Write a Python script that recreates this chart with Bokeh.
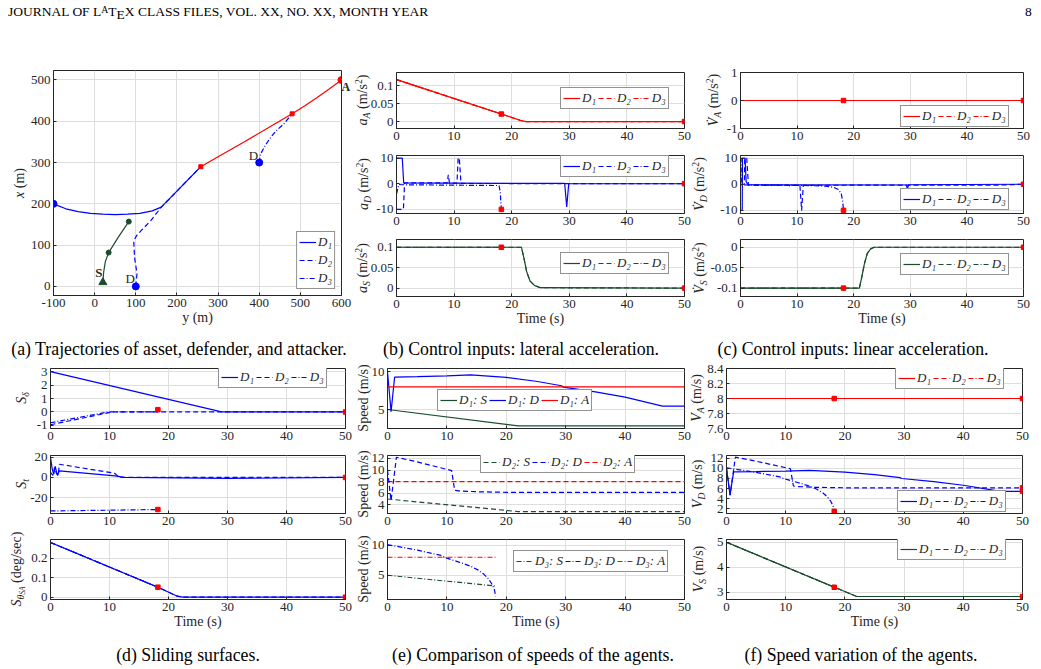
import math
from bokeh.plotting import figure
from bokeh.models import Range1d, FixedTicker, PrintfTickFormatter, Label, Legend, LegendItem, Div, LinearAxis
from bokeh.layouts import column, row
from bokeh.core.properties import value
from bokeh.embed import file_html
from bokeh.resources import INLINE

# ======================= DATA =======================
# (a) trajectories: horizontal axis is y (m), vertical axis is x (m)
atk_y = [600, 570, 540, 510, 480, 420, 360, 300, 258]
atk_x = [500, 478, 457, 437, 418, 383, 348, 314, 290]
d1_y = [-100, -70, -40, -10, 20, 50, 80, 110, 140, 162, 210, 258]
d1_x = [200, 188, 181, 177, 175, 174, 175, 177, 183, 192, 241, 290]
d2_y = [100, 103, 100, 97, 95, 102, 113, 137, 162, 210, 258]
d2_x = [0, 31, 50, 70, 111, 123, 135, 160, 192, 241, 290]
d3_y = [400, 403, 412, 425, 440, 460, 480]
d3_x = [300, 320, 337, 357, 376, 394, 418]
asset_y = [20, 22, 26, 34, 58, 83]
asset_x = [10, 35, 60, 82, 120, 157]
dstart_y = [-100, 100, 400]
dstart_x = [200, 0, 300]
astop_y = [34, 83]
astop_x = [82, 157]
capture_y = [480, 258]
capture_x = [418, 290]
a_tag_x = 483          # height of the attacker tag "A" on the right edge

# time axis
t_ticks = [0, 10, 20, 30, 40, 50]

# (b) lateral acceleration
aA_t = [0, 18.2, 21.5, 22.5, 50]
aA_v = [0.117, 0.021, 0.0035, 0, 0]
aA3_t = [0, 18.2]
aA3_v = [0.117, 0.021]
aD1_t = [0, 1.0, 1.25, 29.2, 29.55, 29.9, 50]
aD1_v = [10, 10, 0.3, 0.1, -9, 0, 0]
aD2_t = [0, 1.2, 1.4, 8.8, 9.0, 9.2, 10.5, 10.7, 10.9, 11.2, 50]
aD2_v = [-10, -10, 0.3, 0.3, 3.5, 0.2, 0.2, 10, 10, 0.1, 0]
aD3_t = [0, 0.4, 1.0, 17.8, 18.0, 18.2]
aD3_v = [-4, -0.3, -0.4, -0.7, -3.0, -10]
aS_t = [0, 21.7, 22.1, 22.6, 23.2, 24.0, 25.0, 50]
aS_v = [0.1, 0.1, 0.075, 0.04, 0.017, 0.006, 0.001, 0]
aS3_t = [0, 18.2]
aS3_v = [0.1, 0.1]

# (c) linear acceleration
vdA_t = [0, 50]
vdA_v = [0, 0]
vdA3_t = [0, 18.2]
vdA3_v = [0, 0]
vdD1_t = [0, 0.3, 0.35, 0.8, 1.0, 1.3, 29.3, 29.5, 29.7, 50]
vdD1_v = [-10, -10, 10, 10, 1, -0.2, -0.3, -1.8, -0.2, 0]
vdD2_t = [0, 0.7, 0.75, 1.1, 1.4, 8.6, 8.8, 9.0, 10.5, 10.8, 11.1, 46, 50]
vdD2_v = [0, 0, 10, 10, -0.3, -0.4, -0.9, -0.4, -0.5, -10, -0.4, -0.3, 0]
vdD3_t = [0, 0.1, 0.15, 1, 10, 15, 16.5, 17.3, 17.8, 18.05, 18.2]
vdD3_v = [10, 10, -0.2, -0.3, -0.4, -0.7, -1.2, -2.0, -3.6, -6.5, -10]
vdS_t = [0, 21.0, 21.4, 21.9, 22.4, 23.0, 23.6, 50]
vdS_v = [-0.1, -0.1, -0.075, -0.04, -0.015, -0.004, 0, 0]
vdS3_t = [0, 18.2]
vdS3_v = [-0.1, -0.1]

# (d) sliding surfaces
sd1_t = [0, 29.0, 50]
sd1_v = [3.0, 0, 0]
sd2_t = [0, 10.5, 50]
sd2_v = [-0.95, 0, 0]
sd3_t = [0, 9.8, 18.2]
sd3_v = [-0.8, 0, 0]
st1_t = [0, 0.3, 0.55, 0.8, 1.0, 1.2, 1.5, 11.0, 12.5, 30, 50]
st1_v = [20, 8, 3, 11, 6, 2, 6.5, 1.5, 0, -1, 0]
st2_t = [0, 0.4, 0.7, 1.0, 1.3, 1.5, 10.8, 11.0, 11.6, 50]
st2_v = [5, 2, 10, 4, 2, 13, 4.2, 3.5, 0, 0]
st3_t = [0, 18.2]
st3_v = [-33, -31.6]
sth_t = [0, 18.2, 21.5, 22.4, 50]
sth_v = [0.28, 0.051, 0.005, 0, 0]
sth3_t = [0, 18.2]
sth3_v = [0.28, 0.051]

# (e)/(f) speeds
vS_t = [0, 22.0, 50]
vS_v = [5.0, 2.83, 2.83]
vS3_t = [0, 18.2]
vS3_v = [5.0, 3.2]
vA_t = [0, 50]
vA_v = [8, 8]
vA3_t = [0, 18.2]
vA3_v = [8, 8]
vD1_t = [0, 0.6, 1.2, 5, 10, 14, 20, 25, 29.3, 29.6, 35, 40, 46.3, 50]
vD1_v = [10, 4.7, 9.3, 9.35, 9.45, 9.6, 9.25, 8.75, 8.15, 7.98, 7.35, 6.65, 5.45, 5.45]
vD2_t = [0, 0.6, 1.5, 5, 10.8, 11.3, 12, 15, 20, 30, 50]
vD2_v = [10, 4.7, 12.2, 11.4, 9.9, 6.5, 6.4, 6.25, 6.15, 6.15, 6.15]
vD3_t = [0, 5, 9, 9.3, 10, 12, 14, 15.2, 16.2, 17.0, 17.6, 18.0, 18.2]
vD3_v = [10.1, 9.2, 8.3, 8.1, 7.85, 7.2, 6.5, 5.9, 5.2, 4.4, 3.5, 2.6, 1.5]

# end-of-episode markers (t, value)
mk_b1 = ([18.2, 50], [0.021, 0])
mk_b2 = ([18.2, 50], [-10, 0])
mk_b3 = ([18.2, 50], [0.1, 0])
mk_c1 = ([18.2, 50], [0, 0])
mk_c2 = ([18.2, 50], [-10, 0])
mk_c3 = ([18.2, 50], [-0.1, 0])
mk_d1 = ([18.2, 50], [0.17, 0])
mk_d2 = ([18.2, 50], [-31.6, 0])
mk_d3 = ([18.2, 50], [0.051, 0])
mk_f1 = ([18.2, 50], [8, 8])
mk_f2 = ([18.2, 50, 50], [1.5, 6.15, 5.45])
mk_f3 = ([18.2, 50], [3.2, 2.83])

leg_D = ["D\u2081", "D\u2082", "D\u2083"]
leg_e1 = ["D\u2081: S", "D\u2081: D", "D\u2081: A"]
leg_e2 = ["D\u2082: S", "D\u2082: D", "D\u2082: A"]
leg_e3 = ["D\u2083: S", "D\u2083: D", "D\u2083: A"]

header_left = ('JOURNAL OF L<span style="font-size:0.72em;position:relative;top:-0.3em;">A</span>'
               'T<span style="position:relative;top:0.22em;">E</span>X CLASS FILES, VOL. XX, NO. XX, MONTH YEAR')
header_right = "8"
captions_top = ["(a) Trajectories of asset, defender, and attacker.",
                "(b) Control inputs: lateral acceleration.",
                "(c) Control inputs: linear acceleration."]
captions_bottom = ["(d) Sliding surfaces.",
                   "(e) Comparison of speeds of the agents.",
                   "(f) Speed variation of the agents."]

SUB = '<span style="font-size:70%;vertical-align:-0.28em;">{}</span>'
SUP = '<span style="font-size:70%;vertical-align:0.5em;">{}</span>'
ylab_a = "<i>x</i> (m)"
ylab_b = ["<i>a</i>" + SUB.format("<i>%s</i>" % k) + " (m/s" + SUP.format("2") + ")" for k in "ADS"]
ylab_c = ["<i>V\u0307</i>" + SUB.format("<i>%s</i>" % k) + " (m/s" + SUP.format("2") + ")" for k in "ADS"]
ylab_d = ["<i>S</i>" + SUB.format("<i>\u03b4</i>"),
          "<i>S</i>" + SUB.format("<i>t</i>"),
          "<i>S</i>" + SUB.format('<i>\u03b8</i><span style="font-size:75%;vertical-align:-0.25em;"><i>SA</i></span>')
          + " (deg/sec)"]
ylab_e = ["Speed (m/s)"] * 3
ylab_f = ["<i>V</i>" + SUB.format("<i>%s</i>" % k) + " (m/s)" for k in "ADS"]

# ======================= STYLE =======================
FONT = "Liberation Serif"
AX = "#262626"
GRID = "#dedede"
BLUE = "#0000ff"
RED = "#ff0000"
GREEN = "#1a4d2e"
LW = 1.2
DASH = ["solid", "5 3", "5 2 1 2"]


def make_fig(w, h, l, r, t, b, xr, yr, xt, yt):
    p = figure(width=w, height=h, x_range=Range1d(xr[0], xr[1]), y_range=Range1d(yr[0], yr[1]),
               output_backend="svg", toolbar_location=None, tools="", title=None,
               min_border_left=l, min_border_right=r, min_border_top=t, min_border_bottom=b)
    p.outline_line_color = AX
    p.outline_line_width = 1
    p.outline_line_alpha = 1
    p.background_fill_color = "white"
    p.border_fill_alpha = 0
    for ax, ticks in ((p.xaxis, xt), (p.yaxis, yt)):
        ax.ticker = FixedTicker(ticks=ticks)
        ax.formatter = PrintfTickFormatter(format="%g")
        ax.major_tick_in = 3
        ax.major_tick_out = 0
        ax.minor_tick_line_color = None
        ax.axis_line_color = AX
        ax.major_tick_line_color = AX
        ax.major_label_text_font = FONT
        ax.major_label_text_font_size = "13px"
        ax.major_label_text_color = AX
        ax.major_label_standoff = 3
        ax.axis_label_text_font = FONT
        ax.axis_label_text_font_size = "14px"
        ax.axis_label_text_font_style = "normal"
        ax.axis_label_text_color = AX
        ax.axis_label_standoff = 0
    p.grid.grid_line_color = GRID
    p.grid.grid_line_width = 1
    return p


def add_legend(p, pairs, loc, orientation="horizontal", margin=0):
    items = [LegendItem(label=value(lbl), renderers=[rd]) for lbl, rd in pairs]
    lg = Legend(items=items, location=loc, orientation=orientation, padding=2, spacing=2, margin=margin,
                glyph_width=17, glyph_height=12, label_height=12, label_width=8, label_standoff=2,
                label_text_font=FONT, label_text_font_size="13px", label_text_font_style="italic",
                label_text_color=AX, border_line_color=AX, border_line_width=1,
                background_fill_color="white", background_fill_alpha=1)
    p.add_layout(lg, "center")


def label_div(w, h, cx, cy, html):
    inner = ('<div style="position:relative;width:%dpx;height:%dpx;font-family:\'Liberation Serif\';'
             'font-size:14px;line-height:1;color:%s;overflow:visible;">'
             '<span style="position:absolute;left:%spx;top:%spx;transform:translate(-50%%,-50%%) rotate(-90deg);'
             'white-space:nowrap;">%s</span></div>' % (w, h, AX, cx, cy, html))
    return Div(text=inner, width=w, height=h, margin=0, styles={"overflow": "visible", "z-index": "5"})


DIVW = 8


def ts_panel(fig_left, frame_w, right, lab_cx, hrow, yr, yt, series, markers, labels, leg_loc,
             ylab, time_label=False):
    h, t, b = hrow
    w = fig_left + frame_w + right
    p = make_fig(w, h, fig_left, right, t, b, (0, 50), yr, t_ticks, yt)
    rends = [p.line(st, sv, line_color=c, line_width=LW, line_dash=d) for st, sv, d, c in series]
    if markers:
        p.scatter(markers[0], markers[1], marker="square", size=4.5, fill_color=RED, line_color=RED)
    if labels:
        add_legend(p, list(zip(labels, rends)), leg_loc)
    if time_label:
        p.xaxis.axis_label = "Time (s)"
    fh = h - t - b
    return row(label_div(DIVW, h, lab_cx, t + fh / 2.0, ylab), p, spacing=0)


R1 = [(88, 12, 20), (85, 7, 20), (97, 6, 34)]
R2 = [(86, 6, 20), (85, 7, 20), (102, 6, 36)]

# ======================= PANEL (a) =======================
pa = make_fig(337, 270, 33, 16, 10, 35, (-100, 600), (-22, 523),
              [-100, 0, 100, 200, 300, 400, 500, 600], [0, 100, 200, 300, 400, 500])
pa.xaxis.axis_label = "y (m)"
pa.line(atk_y, atk_x, line_color=RED, line_width=LW)
ra1 = pa.line(d1_y, d1_x, line_color=BLUE, line_width=LW, line_dash=DASH[0])
ra2 = pa.line(d2_y, d2_x, line_color=BLUE, line_width=LW, line_dash=DASH[1])
ra3 = pa.line(d3_y, d3_x, line_color=BLUE, line_width=LW, line_dash=DASH[2])
pa.line(asset_y, asset_x, line_color=GREEN, line_width=LW)
pa.scatter(astop_y, astop_x, marker="circle", size=5, fill_color=GREEN, line_color=GREEN)
pa.scatter(asset_y[:1], asset_x[:1], marker="triangle", size=8, fill_color=GREEN, line_color=GREEN)
pa.scatter(capture_y, capture_x, marker="square", size=4, fill_color=RED, line_color=RED)
pa.scatter(dstart_y, dstart_x, marker="circle", size=7, fill_color=BLUE, line_color=BLUE)
pa.scatter(atk_y[:1], atk_x[:1], marker="circle", size=7, fill_color=RED, line_color=RED)
for yy, xx in zip(dstart_y, dstart_x):
    pa.add_layout(Label(x=yy, y=xx, text="D", x_offset=-1, y_offset=0, text_align="right",
                        text_baseline="bottom", text_font=FONT, text_font_size="13px", text_color=AX))
pa.add_layout(Label(x=asset_y[0], y=asset_x[0], text="S", x_offset=-0.5, y_offset=2, text_align="right",
                    text_baseline="bottom", text_font=FONT, text_font_size="13px", text_font_style="bold",
                    text_color=AX))
tag_axis = LinearAxis(ticker=FixedTicker(ticks=[a_tag_x]), major_label_overrides={a_tag_x: "A"},
                      axis_line_color=None, major_tick_line_color=None, minor_tick_line_color=None,
                      major_tick_in=0, major_tick_out=0,
                      major_label_standoff=0, major_label_text_font=FONT, major_label_text_font_size="12px",
                      major_label_text_font_style="bold", major_label_text_color=AX)
pa.add_layout(tag_axis, "right")
add_legend(pa, list(zip(leg_D, [ra1, ra2, ra3])), "bottom_right", orientation="vertical", margin=6)
panel_a = row(label_div(20, 270, 19.5, 10 + 112.5, ylab_a), pa, spacing=0)

# ======================= PANEL (b) =======================
BL, BFW, BR = 31, 288, 8
b1 = ts_panel(BL, BFW, BR, 6, R1[0], (-0.0193, 0.1367), [0, 0.05, 0.1],
              [(aA_t, aA_v, DASH[0], RED), (aA_t, aA_v, DASH[1], RED), (aA3_t, aA3_v, DASH[2], RED)],
              mk_b1, leg_D, (164, 19), ylab_b[0])
b2 = ts_panel(BL, BFW, BR, 6.5, R1[1], (-11.6, 11.0), [-10, 0, 10],
              [(aD1_t, aD1_v, DASH[0], BLUE), (aD2_t, aD2_v, DASH[1], BLUE), (aD3_t, aD3_v, DASH[2], BLUE)],
              mk_b2, leg_D, (164, 36), ylab_b[1])
b3 = ts_panel(BL, BFW, BR, 6, R1[2], (-0.0205, 0.119), [0, 0.05, 0.1],
              [(aS_t, aS_v, DASH[0], GREEN), (aS_t, aS_v, DASH[1], GREEN), (aS3_t, aS3_v, DASH[2], GREEN)],
              mk_b3, leg_D, (164, 22), ylab_b[2], time_label=True)

# ======================= PANEL (c) =======================
CL, CFW, CR = 40, 283, 18
c1 = ts_panel(CL, CFW, CR, 22, R1[0], (-1, 1), [-1, 0, 1],
              [(vdA_t, vdA_v, DASH[0], RED), (vdA_t, vdA_v, DASH[1], RED), (vdA3_t, vdA3_v, DASH[2], RED)],
              mk_c1, leg_D, (160, 1), ylab_c[0])
c2 = ts_panel(CL, CFW, CR, 8, R1[1], (-11.2, 11.0), [-10, 0, 10],
              [(vdD1_t, vdD1_v, DASH[0], BLUE), (vdD2_t, vdD2_v, DASH[1], BLUE), (vdD3_t, vdD3_v, DASH[2], BLUE)],
              mk_c2, leg_D, (160, 3), ylab_c[1])
c3 = ts_panel(CL, CFW, CR, 8, R1[2], (-0.1205, 0.019), [-0.1, -0.05, 0],
              [(vdS_t, vdS_v, DASH[0], GREEN), (vdS_t, vdS_v, DASH[1], GREEN), (vdS3_t, vdS3_v, DASH[2], GREEN)],
              mk_c3, leg_D, (160, 21), ylab_c[2], time_label=True)

# ======================= PANEL (d) =======================
DL, DFW, DR = 42, 295, 7
d1 = ts_panel(DL, DFW, DR, 22.5, R2[0], (-1.23, 3.23), [-1, 0, 1, 2, 3],
              [(sd1_t, sd1_v, DASH[0], BLUE), (sd2_t, sd2_v, DASH[1], BLUE), (sd3_t, sd3_v, DASH[2], BLUE)],
              mk_d1, leg_D, (168, 40), ylab_d[0])
d2 = ts_panel(DL, DFW, DR, 22.5, R2[1], (-35.5, 21.6), [-20, 0, 20],
              [(st1_t, st1_v, DASH[0], BLUE), (st2_t, st2_v, DASH[1], BLUE), (st3_t, st3_v, DASH[2], BLUE)],
              mk_d2, None, None, ylab_d[1])
d3 = ts_panel(DL, DFW, DR, 18, R2[2], (-0.012, 0.295), [0, 0.1, 0.2],
              [(sth_t, sth_v, DASH[0], BLUE), (sth_t, sth_v, DASH[1], BLUE), (sth3_t, sth3_v, DASH[2], BLUE)],
              mk_d3, None, None, ylab_d[2], time_label=True)

# ======================= PANEL (e) =======================
EL, EFW, ER = 27, 297, 8
e1 = ts_panel(EL, EFW, ER, 11.5, R2[0], (2.48, 10.44), [5, 10],
              [(vS_t, vS_v, DASH[0], GREEN), (vD1_t, vD1_v, DASH[0], BLUE), (vA_t, vA_v, DASH[0], RED)],
              None, leg_e1, (50, 17), ylab_e[0])
e2 = ts_panel(EL, EFW, ER, 11.5, R2[1], (2.5, 12.5), [4, 6, 8, 10, 12],
              [(vS_t, vS_v, DASH[1], GREEN), (vD2_t, vD2_v, DASH[1], BLUE), (vA_t, vA_v, DASH[1], RED)],
              None, leg_e2, (93, 40), ylab_e[1])
e3 = ts_panel(EL, EFW, ER, 11.5, R2[2], (0.96, 10.96), [5, 10],
              [(vS3_t, vS3_v, DASH[2], GREEN), (vD3_t, vD3_v, DASH[2], BLUE), (vA3_t, vA3_v, DASH[2], RED)],
              None, leg_e3, (126, 27), ylab_e[2], time_label=True)

# ======================= PANEL (f) =======================
FL, FFW, FR = 26, 296, 19
f1 = ts_panel(FL, FFW, FR, 5.5, R2[0], (7.6, 8.4), [7.6, 7.8, 8, 8.2, 8.4],
              [(vA_t, vA_v, DASH[0], RED), (vA_t, vA_v, DASH[1], RED), (vA3_t, vA3_v, DASH[2], RED)],
              mk_f1, leg_D, (169, 39), ylab_f[0])
f2 = ts_panel(FL, FFW, FR, 7, R2[1], (1.08, 12.52), [2, 4, 6, 8, 10, 12],
              [(vD1_t, vD1_v, DASH[0], BLUE), (vD2_t, vD2_v, DASH[1], BLUE), (vD3_t, vD3_v, DASH[2], BLUE)],
              mk_f2, leg_D, (171, 1), ylab_f[1])
f3 = ts_panel(FL, FFW, FR, 8, R2[2], (2.71, 5.11), [3, 4, 5],
              [(vS_t, vS_v, DASH[0], GREEN), (vS_t, vS_v, DASH[1], GREEN), (vS3_t, vS3_v, DASH[2], GREEN)],
              mk_f3, leg_D, (171, 39), ylab_f[2], time_label=True)

# ======================= TEXT BLOCKS =======================
def abs_div(h, items, size):
    spans = "".join(
        '<span style="position:absolute;left:%spx;top:%spx;%swhite-space:nowrap;">%s</span>'
        % (x, y, "transform:translateX(-50%);" if c else "", txt) for x, y, c, txt in items)
    html = ('<div style="position:relative;width:1041px;height:%dpx;font-family:\'Liberation Serif\';'
            'font-size:%spx;line-height:1;color:#000;">%s</div>' % (h, size, spans))
    return Div(text=html, width=1041, height=h, margin=0)


header = abs_div(60, [(8, 5, False, header_left), (1025, 5, False, header_right)], 13.5)
cap1 = abs_div(32, [(179, 11, True, captions_top[0]), (521, 11, True, captions_top[1]),
                    (853, 11, True, captions_top[2])], 17.8)
cap2 = abs_div(34, [(188, 12, True, captions_bottom[0]), (533, 12, True, captions_bottom[1]),
                    (861, 12, True, captions_bottom[2])], 17.8)

row1 = row(panel_a, column(b1, b2, b3, spacing=0), column(c1, c2, c3, spacing=0), spacing=0)
row2 = row(column(d1, d2, d3, spacing=0), column(e1, e2, e3, spacing=0), column(f1, f2, f3, spacing=0),
           spacing=0)
root = column(header, row1, cap1, row2, cap2, spacing=0)

open("out.html", "w").write(file_html(root, INLINE))
